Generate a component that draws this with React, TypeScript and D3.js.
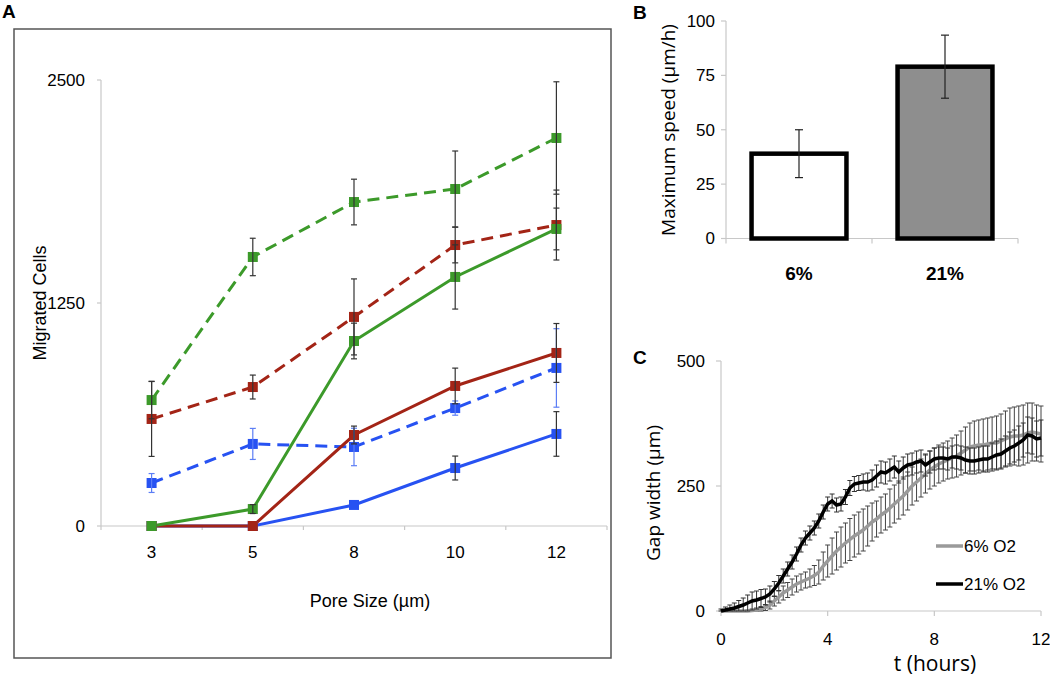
import React from "react";
import * as d3 from "d3";

// ---------- Panel A data ----------
const poreSizes = ["3", "5", "8", "10", "12"];
const greenDashed = [706, 1508, 1816, 1889, 2175];
const greenDashedErr = [105, 105, 128, 213, 315];
const redDashed = [600, 779, 1172, 1575, 1687];
const redDashedErr = [210, 67, 213, 100, 196];
const blueDashed = [241, 460, 443, 661, 886];
const blueDashedErr = [53, 87, 105, 40, 220];
const greenSolid = [0, 95, 1037, 1396, 1665];
const greenSolidErr = [0, 25, 100, 180, 117];
const redSolid = [0, 0, 510, 785, 970];
const redSolidErr = [0, 0, 50, 100, 165];
const blueSolid = [0, 0, 118, 325, 516];
const blueSolidErr = [0, 0, 0, 67, 125];
const yTicksA = [0, 1250, 2500];

// ---------- Panel B data ----------
const oxygenLevels = ["6%", "21%"];
const maxSpeed = [39, 79];
const maxSpeedErr = [11, 14.5];
const yTicksB = [0, 25, 50, 75, 100];

// ---------- Panel C data (every 10 min, 0..12 h) ----------
const gap21 = [0, 2, 4, 6, 9, 12, 16, 20, 22, 25, 28, 34, 44, 56, 70, 84, 98, 114, 132, 146, 156, 166, 180, 198, 214, 220, 212, 214, 228, 246, 254, 256, 258, 258, 262, 270, 278, 276, 282, 288, 278, 286, 292, 294, 298, 300, 292, 298, 304, 306, 306, 304, 308, 308, 306, 302, 300, 300, 302, 304, 304, 308, 312, 314, 320, 326, 330, 336, 342, 352, 350, 344, 346];
const gap21Err = [4, 6, 8, 10, 12, 14, 16, 18, 18, 18, 16, 16, 15, 15, 14, 14, 14, 14, 14, 14, 14, 14, 14, 14, 14, 14, 14, 14, 15, 15, 15, 15, 16, 18, 20, 22, 22, 22, 22, 22, 22, 22, 22, 22, 22, 22, 22, 22, 22, 22, 22, 22, 22, 24, 24, 26, 26, 26, 26, 26, 26, 28, 28, 30, 30, 32, 32, 34, 34, 36, 36, 36, 36];
const gap6 = [0, 0, 0, 0, 0, 0, 0, 1, 2, 4, 7, 12, 20, 28, 36, 42, 48, 54, 58, 62, 66, 71, 78, 90, 100, 110, 120, 128, 136, 143, 150, 156, 162, 170, 178, 184, 192, 198, 206, 214, 222, 230, 240, 250, 258, 266, 274, 282, 288, 294, 298, 302, 306, 310, 316, 322, 328, 330, 332, 332, 334, 336, 336, 340, 344, 348, 350, 350, 352, 356, 358, 356, 354];
const gap6Err = [0, 0, 0, 0, 0, 0, 2, 3, 4, 5, 6, 8, 10, 12, 14, 15, 16, 16, 16, 16, 18, 20, 24, 28, 32, 36, 38, 40, 40, 42, 42, 42, 42, 40, 38, 36, 36, 36, 38, 38, 38, 38, 38, 38, 38, 38, 38, 38, 38, 38, 38, 38, 40, 42, 44, 46, 48, 50, 50, 52, 52, 52, 54, 54, 56, 58, 58, 60, 60, 60, 58, 56, 56];
const timeStepHours = 1 / 6;
const xTicksC = [0, 4, 8, 12];
const yTicksC = [0, 250, 500];

const GREEN = "#3c9a2a";
const RED = "#a32416";
const BLUE = "#2752f2";
const BLUE_ERR = "#5c7ef5";
const AXIS = "#c8c8c8";
const ERR = "#333";
const SANS = "'Liberation Sans', Arial, sans-serif";
const SANS2 = "'Open Sans', 'Liberation Sans', sans-serif";

export default function App() {
  // ---------- scales ----------
  const xA = d3.scaleBand<string>().domain(poreSizes).range([101, 607]);
  const yA = d3.scaleLinear().domain([0, 2500]).range([526, 80]);
  const cx = (i: number) => (xA(poreSizes[i]) as number) + xA.bandwidth() / 2;

  const xB = d3.scaleBand<string>().domain(oxygenLevels).range([726, 1018]).paddingInner(0.35).paddingOuter(0.175);
  const yB = d3.scaleLinear().domain([0, 100]).range([238.5, 21]);

  const xC = d3.scaleLinear().domain([0, 12]).range([721, 1041]);
  const yC = d3.scaleLinear().domain([0, 500]).range([611, 361]);

  const seriesA = [
    { v: blueDashed, e: blueDashedErr, c: BLUE, dash: true, ec: BLUE_ERR },
    { v: blueSolid, e: blueSolidErr, c: BLUE, dash: false, ec: ERR },
    { v: redDashed, e: redDashedErr, c: RED, dash: true, ec: ERR },
    { v: greenDashed, e: greenDashedErr, c: GREEN, dash: true, ec: ERR },
    { v: redSolid, e: redSolidErr, c: RED, dash: false, ec: ERR },
    { v: greenSolid, e: greenSolidErr, c: GREEN, dash: false, ec: ERR },
  ];
  const lineA = d3
    .line<number>()
    .x((_, i) => cx(i))
    .y((d) => yA(d));

  const lineC = d3
    .line<number>()
    .x((_, i) => xC(i * timeStepHours))
    .y((d) => yC(d));

  const cap = 3;
  const sq = 10;

  return (
    <svg width={1050} height={679} style={{ display: "block", position: "absolute", left: 0, top: 0, background: "#fff" }}>
      <rect x={0} y={0} width={1050} height={679} fill="#fff" />
      {/* ================= Panel A ================= */}
      <text x={2} y={18} fontFamily={SANS} fontWeight="bold" fontSize={19}>A</text>
      <rect x={14} y={29} width={597} height={629} fill="none" stroke="#555" strokeWidth={1.5} />
      {/* axes */}
      <line x1={101} x2={101} y1={yA(2500)} y2={yA(0)} stroke={AXIS} strokeWidth={1.2} />
      <line x1={101} x2={607} y1={yA(0)} y2={yA(0)} stroke={AXIS} strokeWidth={1.2} />
      {yTicksA.map((t) => (
        <g key={"ya" + t}>
          <line x1={97} x2={101} y1={yA(t)} y2={yA(t)} stroke={AXIS} strokeWidth={1.2} />
          <text x={85} y={yA(t)} dy="0.35em" textAnchor="end" fontFamily={SANS} fontSize={17}>{t}</text>
        </g>
      ))}
      {poreSizes.map((p, i) => (
        <text key={"xa" + p} x={cx(i)} y={558} textAnchor="middle" fontFamily={SANS} fontSize={17}>{p}</text>
      ))}
      {[...poreSizes.map((p) => xA(p) as number), 607].map((x, i) => (
        <line key={"xt" + i} x1={x} x2={x} y1={yA(0)} y2={yA(0) + 4} stroke={AXIS} strokeWidth={1.2} />
      ))}
      <text transform={`translate(46,303) rotate(-90)`} textAnchor="middle" fontFamily={SANS} fontSize={18}>Migrated Cells</text>
      <text x={370} y={607} textAnchor="middle" fontFamily={SANS} fontSize={18}>Pore Size (µm)</text>
      {/* lines */}
      {seriesA.map((s, k) => (
        <path key={"la" + k} d={lineA(s.v) as string} fill="none" stroke={s.c} strokeWidth={3} strokeDasharray={s.dash ? "12,7" : undefined} />
      ))}
      {/* markers */}
      {seriesA.map((s, k) => (
        <g key={"ma" + k}>
          {s.v.map((v, i) => (
            <rect key={i} x={cx(i) - sq / 2} y={yA(v) - sq / 2} width={sq} height={sq} fill={s.c} />
          ))}
        </g>
      ))}
      {/* error bars */}
      {seriesA.map((s, k) => (
        <g key={"ea" + k} stroke={s.ec} strokeWidth={1.2}>
          {s.v.map((v, i) =>
            s.e[i] > 0 ? (
              <g key={i}>
                <line x1={cx(i)} x2={cx(i)} y1={yA(v + s.e[i])} y2={yA(v - s.e[i])} />
                <line x1={cx(i) - cap} x2={cx(i) + cap} y1={yA(v + s.e[i])} y2={yA(v + s.e[i])} />
                <line x1={cx(i) - cap} x2={cx(i) + cap} y1={yA(v - s.e[i])} y2={yA(v - s.e[i])} />
              </g>
            ) : null
          )}
        </g>
      ))}

      {/* ================= Panel B ================= */}
      <text x={633} y={19} fontFamily={SANS} fontWeight="bold" fontSize={19}>B</text>
      <line x1={726} x2={726} y1={yB(100)} y2={yB(0)} stroke={AXIS} strokeWidth={1.2} />
      <line x1={726} x2={1018} y1={yB(0)} y2={yB(0)} stroke={AXIS} strokeWidth={1.2} />
      {yTicksB.map((t) => (
        <g key={"yb" + t}>
          <line x1={721} x2={726} y1={yB(t)} y2={yB(t)} stroke={AXIS} strokeWidth={1.2} />
          <text x={715} y={yB(t)} dy="0.35em" textAnchor="end" fontFamily={SANS} fontSize={17}>{t}</text>
        </g>
      ))}
      {[726, 872, 1018].map((x) => (
        <line key={"bt" + x} x1={x} x2={x} y1={yB(0)} y2={yB(0) + 5} stroke={AXIS} strokeWidth={1.2} />
      ))}
      {oxygenLevels.map((o, i) => {
        const x = xB(o) as number;
        const w = xB.bandwidth();
        return (
          <g key={"bar" + o}>
            <rect x={x} y={yB(maxSpeed[i])} width={w} height={yB(0) - yB(maxSpeed[i])} fill={i === 0 ? "#fff" : "#8e8e8e"} stroke="#000" strokeWidth={4.5} />
            <g stroke="#222" strokeWidth={1.2}>
              <line x1={x + w / 2} x2={x + w / 2} y1={yB(maxSpeed[i] + maxSpeedErr[i])} y2={yB(maxSpeed[i] - maxSpeedErr[i])} />
              <line x1={x + w / 2 - 4} x2={x + w / 2 + 4} y1={yB(maxSpeed[i] + maxSpeedErr[i])} y2={yB(maxSpeed[i] + maxSpeedErr[i])} />
              <line x1={x + w / 2 - 4} x2={x + w / 2 + 4} y1={yB(maxSpeed[i] - maxSpeedErr[i])} y2={yB(maxSpeed[i] - maxSpeedErr[i])} />
            </g>
            <text x={x + w / 2} y={280} textAnchor="middle" fontFamily={SANS} fontWeight="bold" fontSize={19}>{o}</text>
          </g>
        );
      })}
      <text transform={`translate(675,130) rotate(-90)`} textAnchor="middle" fontFamily={SANS2} fontSize={19}>Maximum speed (µm/h)</text>

      {/* ================= Panel C ================= */}
      <text x={633} y={364} fontFamily={SANS} fontWeight="bold" fontSize={19}>C</text>
      <line x1={721} x2={721} y1={yC(500)} y2={yC(0)} stroke={AXIS} strokeWidth={1.2} />
      <line x1={721} x2={1041} y1={yC(0)} y2={yC(0)} stroke={AXIS} strokeWidth={1.2} />
      {yTicksC.map((t) => (
        <g key={"yc" + t}>
          <line x1={716} x2={721} y1={yC(t)} y2={yC(t)} stroke={AXIS} strokeWidth={1.2} />
          <text x={705} y={yC(t)} dy="0.35em" textAnchor="end" fontFamily={SANS} fontSize={17}>{t}</text>
        </g>
      ))}
      {xTicksC.map((t) => (
        <g key={"xc" + t}>
          <line x1={xC(t)} x2={xC(t)} y1={yC(0)} y2={yC(0) + 5} stroke={AXIS} strokeWidth={1.2} />
          <text x={xC(t)} y={645} textAnchor="middle" fontFamily={SANS} fontSize={17}>{t}</text>
        </g>
      ))}
      <text transform={`translate(660,493) rotate(-90)`} textAnchor="middle" fontFamily={SANS2} fontSize={19}>Gap width (µm)</text>
      <text x={935} y={671} textAnchor="middle" fontFamily={SANS2} fontSize={21}>t (hours)</text>
      {/* error bars 6% */}
      <g stroke="#444" strokeWidth={1}>
        {gap6.map((v, i) =>
          gap6Err[i] > 0 ? (
            <g key={"e6" + i}>
              <line x1={xC(i * timeStepHours)} x2={xC(i * timeStepHours)} y1={yC(v + gap6Err[i])} y2={yC(Math.max(0, v - gap6Err[i]))} />
              <line x1={xC(i * timeStepHours) - 2.5} x2={xC(i * timeStepHours) + 2.5} y1={yC(v + gap6Err[i])} y2={yC(v + gap6Err[i])} />
              <line x1={xC(i * timeStepHours) - 2.5} x2={xC(i * timeStepHours) + 2.5} y1={yC(Math.max(0, v - gap6Err[i]))} y2={yC(Math.max(0, v - gap6Err[i]))} />
            </g>
          ) : null
        )}
      </g>
      <path d={lineC(gap6) as string} fill="none" stroke="#9a9a9a" strokeWidth={3.5} />
      <g stroke="#333" strokeWidth={1}>
        {gap21.map((v, i) => (
          <g key={"e21" + i}>
            <line x1={xC(i * timeStepHours)} x2={xC(i * timeStepHours)} y1={yC(v + gap21Err[i])} y2={yC(Math.max(0, v - gap21Err[i]))} />
            <line x1={xC(i * timeStepHours) - 2.5} x2={xC(i * timeStepHours) + 2.5} y1={yC(v + gap21Err[i])} y2={yC(v + gap21Err[i])} />
            <line x1={xC(i * timeStepHours) - 2.5} x2={xC(i * timeStepHours) + 2.5} y1={yC(Math.max(0, v - gap21Err[i]))} y2={yC(Math.max(0, v - gap21Err[i]))} />
          </g>
        ))}
      </g>
      <path d={lineC(gap21) as string} fill="none" stroke="#000" strokeWidth={3.5} />
      {/* legend */}
      <line x1={936} x2={963} y1={546} y2={546} stroke="#9a9a9a" strokeWidth={3.5} />
      <text x={964} y={546} dy="0.35em" fontFamily={SANS} fontSize={17}>6% O2</text>
      <line x1={936} x2={963} y1={584} y2={584} stroke="#000" strokeWidth={3.5} />
      <text x={964} y={584} dy="0.35em" fontFamily={SANS} fontSize={17}>21% O2</text>
    </svg>
  );
}
